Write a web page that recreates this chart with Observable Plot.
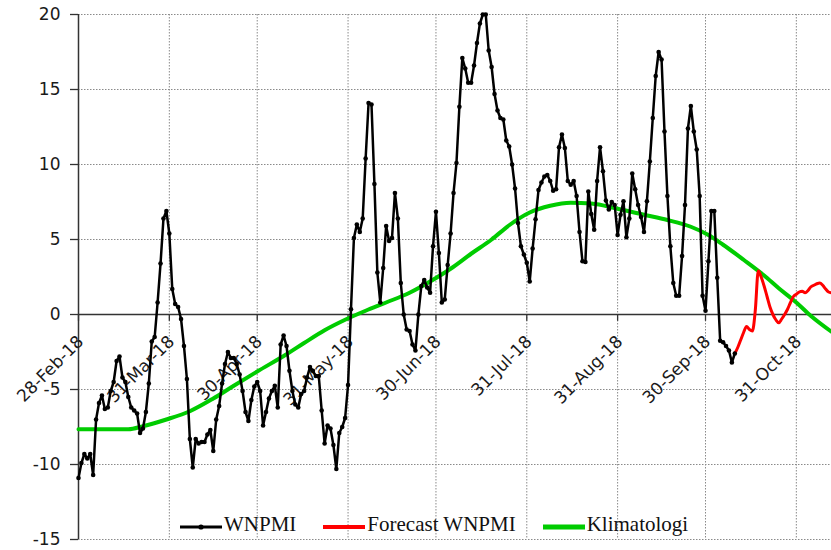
<!DOCTYPE html>
<html><head><meta charset="utf-8">
<script src="https://cdn.jsdelivr.net/npm/d3@7"></script>
<script src="https://cdn.jsdelivr.net/npm/@observablehq/plot@0.6"></script>
<style>
body{margin:0;background:#fff;}
#wrap{position:relative;width:831px;height:550px;overflow:hidden;background:#fff;}
#legend{position:absolute;left:180px;top:512px;display:flex;align-items:center;font-family:"Liberation Serif",serif;font-size:21px;line-height:24px;color:#111;white-space:nowrap;}
.item{display:flex;align-items:center;margin-right:27px;}
.item svg{margin-right:2px;}
</style></head><body><div id="wrap"></div>
<script>
// ---- data ----
const startDate = "2018-02-28";
const wnpmi = [
-10.9,-9.9,-9.3,-9.6,-9.3,-10.7,-7.0,-5.9,-5.4,-6.3,
-6.2,-5.1,-4.5,-3.1,-2.8,-4.2,-4.5,-5.5,-6.2,-6.4,
-6.6,-7.9,-7.6,-6.5,-4.6,-1.8,-1.5,0.8,3.4,6.4,
6.9,5.4,1.7,0.7,0.5,-0.3,-2.1,-4.3,-8.3,-10.2,
-8.3,-8.6,-8.5,-8.5,-8.0,-7.7,-9.1,-7.0,-6.1,-4.6,
-3.3,-2.5,-2.9,-2.9,-3.3,-4.0,-5.1,-6.5,-7.1,-5.7,
-4.8,-4.5,-5.1,-7.4,-6.5,-5.6,-5.1,-4.75,-6.2,-2.0,
-1.4,-2.1,-3.75,-5.1,-6.0,-6.2,-5.3,-5.1,-4.2,-3.5,
-3.75,-4.1,-4.1,-6.4,-8.6,-7.4,-7.6,-8.7,-10.3,-7.9,
-7.5,-6.9,-4.7,0.35,5.1,6.0,5.5,6.4,10.4,14.1,
14.0,8.7,2.8,0.8,3.1,5.9,4.9,5.1,8.1,6.4,
2.1,0.0,-1.0,-1.1,-2.0,-2.4,0.0,1.9,2.3,1.8,
1.45,4.55,6.85,4.1,0.8,1.0,3.3,5.4,8.1,10.1,
13.85,17.1,16.4,15.45,15.45,16.6,18.1,19.4,20.0,20.0,
17.6,16.5,14.7,13.6,13.1,13.0,11.6,11.2,10.0,8.4,
6.1,4.55,4.0,3.45,2.2,4.4,6.35,8.3,8.8,9.2,
9.3,8.9,8.25,8.35,11.15,12.0,11.1,8.9,8.65,8.9,
7.9,5.5,3.55,3.5,8.2,6.7,5.65,8.9,11.15,9.55,
7.6,7.0,7.5,7.3,5.3,6.65,7.55,5.15,6.4,9.4,
8.35,7.3,6.5,5.5,7.55,10.2,13.1,15.9,17.5,17.0,
12.2,7.9,4.55,2.1,1.25,1.25,3.9,7.3,12.4,13.9,
12.2,11.0,7.9,1.25,0.25,3.55,6.9,6.9,2.45,-1.75,
-1.85,-2.1,-2.4,-3.2,-2.6
];
const forecastStart = "2018-10-10";
const forecast = [
-2.6,-2.2,-1.7,-1.2,-0.8,-1.0,-1.1,0.3,2.9,2.5,
1.9,1.2,0.5,0.0,-0.35,-0.55,-0.3,0.0,0.35,0.8,
1.2,1.35,1.5,1.55,1.45,1.6,1.85,1.95,2.05,2.1,
1.95,1.7,1.5,1.45
];
const climDates = ["2018-02-28","2018-03-17","2018-03-22","2018-03-30","2018-04-07","2018-04-15","2018-04-22","2018-04-30","2018-05-10","2018-05-16","2018-05-23","2018-05-30","2018-06-06","2018-06-13","2018-06-21","2018-06-28","2018-07-05","2018-07-12","2018-07-19","2018-07-25","2018-08-01","2018-08-08","2018-08-15","2018-08-22","2018-08-31","2018-09-09","2018-09-17","2018-09-25","2018-10-01","2018-10-06","2018-10-13","2018-10-20","2018-10-25","2018-10-31","2018-11-05","2018-11-12"];
const climValues = [-7.65,-7.65,-7.45,-7.0,-6.45,-5.6,-4.75,-3.8,-2.65,-1.9,-1.05,-0.35,0.25,0.8,1.45,2.2,3.05,4.05,5.0,5.95,6.8,7.25,7.45,7.4,7.05,6.65,6.3,5.85,5.3,4.65,3.65,2.6,1.75,0.8,-0.1,-1.15];
const xDomain = ["2018-02-28","2018-11-12"];
const xTickDates = ["2018-02-28","2018-03-31","2018-04-30","2018-05-31","2018-06-30","2018-07-31","2018-08-31","2018-09-30","2018-10-31"];
const xTickLabels = ["28-Feb-18","31-Mar-18","30-Apr-18","31-May-18","30-Jun-18","31-Jul-18","31-Aug-18","30-Sep-18","31-Oct-18"];
const yTicks = [-15,-10,-5,0,5,10,15,20];
const seriesNames = ["WNPMI","Forecast WNPMI","Klimatologi"];
const seriesColors = ["#000000","#ff0000","#00cc00"];

// ---- build tables ----
const P = s => new Date(s + "T00:00:00Z");
const obs = wnpmi.map((v, i) => ({date: d3.utcDay.offset(P(startDate), i), value: v}));
const fc = forecast.map((v, i) => ({date: d3.utcDay.offset(P(forecastStart), i), value: v}));
const clim = climDates.map((d, i) => ({date: P(d), value: climValues[i]}));
const xt = xTickDates.map(P);

const chart = Plot.plot({
  width: 831, height: 550,
  marginLeft: 78, marginRight: 0, marginTop: 14, marginBottom: 11,
  style: {fontFamily: "'DejaVu Sans', Verdana, sans-serif", fontSize: "17px", color: "#1a1a1a", background: "#fff"},
  x: {type: "utc", domain: xDomain.map(P)},
  y: {domain: [-15, 20]},
  marks: [
    Plot.gridY(yTicks, {stroke: "#8a8a8a", strokeOpacity: 1, strokeDasharray: "1.5,1.5"}),
    Plot.gridX(xt, {stroke: "#8a8a8a", strokeOpacity: 1, strokeDasharray: "1.5,1.5"}),
    Plot.ruleY([0], {stroke: "#333", strokeWidth: 1.3}),
    Plot.ruleX(xt, {x: d => d, y1: 0, y2: -0.45, stroke: "#333", strokeWidth: 1.3}),
    Plot.ruleX([P(xDomain[0])], {y1: -15, y2: 20, stroke: "#333", strokeWidth: 1.5}),
    Plot.axisY(yTicks, {tickSize: 8, tickPadding: 10, label: null, stroke: "#333", strokeWidth: 1.3, tickFormat: d => String(d)}),
    Plot.axisX({ticks: [], label: null}),
    Plot.text(xTickLabels, {x: (d, i) => xt[i], y: 0, text: d => d, rotate: -45, textAnchor: "end", lineAnchor: "bottom", dx: 6, dy: 28, fontSize: 17, fill: "#1a1a1a"}),
    Plot.line(clim, {x: "date", y: "value", stroke: seriesColors[2], strokeWidth: 4, curve: "monotone-x"}),
    Plot.line(fc, {x: "date", y: "value", stroke: seriesColors[1], strokeWidth: 3, curve: "monotone-x"}),
    Plot.line(obs, {x: "date", y: "value", stroke: seriesColors[0], strokeWidth: 2.5}),
    Plot.dot(obs, {x: "date", y: "value", r: 2.3, fill: seriesColors[0], stroke: "none"})
  ]
});
const wrap = document.getElementById("wrap");
wrap.appendChild(chart);

// ---- legend ----
const legend = document.createElement("div");
legend.id = "legend";
seriesNames.forEach((name, i) => {
  const item = document.createElement("div");
  item.className = "item";
  const w = 42;
  const sw = i === 0 ? 3 : (i === 1 ? 4 : 5);
  item.innerHTML = `<svg width="${w}" height="24"><line x1="0" x2="${w}" y1="15" y2="15" stroke="${seriesColors[i]}" stroke-width="${sw}"/>${i === 0 ? `<circle cx="${w/2}" cy="15" r="2.6" fill="#000"/>` : ""}</svg><span>${name}</span>`;
  legend.appendChild(item);
});
wrap.appendChild(legend);
</script></body></html>
